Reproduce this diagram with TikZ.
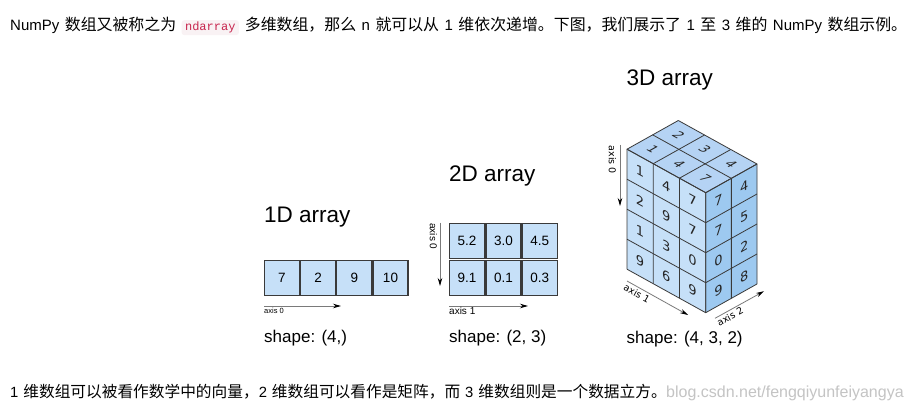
\documentclass[tikz,border=0pt]{standalone}
\usepackage{fontspec}
\setmainfont{Liberation Sans}
\newfontfamily\cjk{Noto Sans CJK SC}[Scale=1.06]
\newfontfamily\codefont{Liberation Mono}
\newfontfamily\dvs{DejaVu Sans}
\usetikzlibrary{arrows.meta,calc}
\definecolor{cellblue}{HTML}{C6E0F8}
\definecolor{topblue}{HTML}{B5D3F4}
\definecolor{rightblue}{HTML}{9DC9F0}
\definecolor{codebg}{HTML}{F9F2F4}
\definecolor{codefg}{HTML}{C7254E}
\definecolor{wmgray}{HTML}{C4C4C4}
\definecolor{axisgray}{HTML}{7A7A7A}
\definecolor{edgegray}{HTML}{3A3A3A}
\tikzset{
  bodytext/.style={anchor=base west, inner sep=0pt, font=\fontsize{15}{18}\selectfont},
  codebox/.style={anchor=base west, fill=codebg, rounded corners=3pt, inner xsep=3.5pt, inner ysep=2pt,
    text height=8.5pt, text depth=2.5pt, text=codefg, font=\codefont\fontsize{12}{14}\selectfont},
  cellbox/.style={draw=edgegray, fill=cellblue, line width=1.2pt, minimum width=35pt, minimum height=35pt,
    inner sep=0pt, font=\fontsize{13.5}{16}\selectfont},
  titletext/.style={anchor=base west, inner sep=0pt, font=\fontsize{22.5}{26}\selectfont},
  shapetext/.style={anchor=base west, inner sep=0pt, font=\fontsize{17}{20}\selectfont},
  axislbl/.style={inner sep=0.5pt, font=\fontsize{10}{12}\selectfont},
  axisarrow/.style={draw=axisgray, line width=0.8pt, -{Stealth[black,length=8pt,width=4.5pt]}},
  cubeline/.style={draw=edgegray, line width=0.8pt, line join=round},
  cubenum/.style={inner sep=0pt, font=\dvs\fontsize{13}{15}\selectfont, text=black!85},
  topnum/.style={cubenum, cm={0.875,-0.484,0.873,0.488,(0,0)}},
}
\begin{document}
\begin{tikzpicture}[x=1pt,y=1pt]
\useasboundingbox (0,0) rectangle (912,410);
\fill[white] (0,0) rectangle (912,410);

% ---------- top text ----------
\node[bodytext] (t1) at (10,379.3) {\spaceskip=5.5pt\relax NumPy {\cjk 数组又被称之为}};
\node[codebox] (code) at ($(t1.base east)+(5,0)$) {ndarray};
\node[bodytext] (t2) at ($(code.base east)+(5.5,0)$) {\spaceskip=5.5pt\relax {\cjk 多维数组，那么} n {\cjk 就可以从} 1 {\cjk 维依次递增。下图，我们展示了} 1 {\cjk 至} 3 {\cjk 维的} NumPy {\cjk 数组示例。}};

% ---------- 1D ----------
\node[titletext] (t1d) at (264,188) {1D array};
\node[cellbox] (c1a) at (281.9,132.2) {7};
\node[cellbox] (c1b) at (318.1,132.2) {2};
\node[cellbox] (c1c) at (354.3,132.2) {9};
\node[cellbox] (c1d) at (390.5,132.2) {10};
\coordinate (a1s) at (264,104);
\coordinate (a1e) at (341,104);
\draw[axisarrow] (a1s) -- (a1e);
\node[axislbl, anchor=north west, font=\fontsize{7.5}{9}\selectfont] (l1d) at (263.5,103) {axis 0};
\node[shapetext] (s1d) at (264,67.5) {shape: (4,)};

% ---------- 2D ----------
\node[titletext] (t2d) at (449,228.3) {2D array};
\node[cellbox] (c2a) at (467.0,169.0) {5.2};
\node[cellbox] (c2b) at (503.4,169.0) {3.0};
\node[cellbox] (c2c) at (539.8,169.0) {4.5};
\node[cellbox] (c2d) at (467.0,132.4) {9.1};
\node[cellbox] (c2e) at (503.4,132.4) {0.1};
\node[cellbox] (c2f) at (539.8,132.4) {0.3};
\coordinate (a20s) at (440,187.3);
\coordinate (a20e) at (440,124);
\draw[axisarrow] (a20s) -- (a20e);
\node[axislbl, rotate=-90, anchor=west] (l20) at (433.5,187.3) {axis 0};
\coordinate (a21s) at (449,104);
\coordinate (a21e) at (528,104);
\draw[axisarrow] (a21s) -- (a21e);
\node[axislbl, anchor=north west] (l21) at (448.5,103) {axis 1};
\node[shapetext] (s2d) at (449,67.5) {shape: (2, 3)};

% ---------- 3D ----------
\node[titletext] (t3d) at (626.5,324) {3D array};
\begin{scope}[shift={(627pt,140.8pt)}, x={(26.23pt,-14.5pt)}, y={(25.65pt,14.35pt)}, z={(0pt,30pt)}]
  \fill[cellblue] (0,0,0) -- (3,0,0) -- (3,0,4) -- (0,0,4) -- cycle;
  \fill[rightblue] (3,0,0) -- (3,2,0) -- (3,2,4) -- (3,0,4) -- cycle;
  \fill[topblue] (0,0,4) -- (3,0,4) -- (3,2,4) -- (0,2,4) -- cycle;
  \foreach \i in {0,...,3} \draw[cubeline] (\i,0,0) -- (\i,0,4) -- (\i,2,4);
  \foreach \k in {0,...,4} \draw[cubeline] (0,0,\k) -- (3,0,\k) -- (3,2,\k);
  \foreach \j in {0,1,2} \draw[cubeline] (3,\j,0) -- (3,\j,4) -- (0,\j,4);
  % left face numbers (column i, row r from top)
  \foreach \v [count=\n from 0] in {1,2,1,9} \node[cubenum, yslant=-0.553] (lf0\n) at (0.5,0,3.5-\n) {\v};
  \foreach \v [count=\n from 0] in {4,9,3,6} \node[cubenum, yslant=-0.553] (lf1\n) at (1.5,0,3.5-\n) {\v};
  \foreach \v [count=\n from 0] in {7,7,0,9} \node[cubenum, yslant=-0.553] (lf2\n) at (2.5,0,3.5-\n) {\v};
  % right face numbers
  \foreach \v [count=\n from 0] in {7,7,0,9} \node[cubenum, yslant=0.559] (rf0\n) at (3,0.5,3.5-\n) {\v};
  \foreach \v [count=\n from 0] in {4,5,2,8} \node[cubenum, yslant=0.559] (rf1\n) at (3,1.5,3.5-\n) {\v};
  % top face numbers
  \node[topnum] (tf00) at (0.5,0.5,4) {1};
  \node[topnum] (tf01) at (0.5,1.5,4) {2};
  \node[topnum] (tf10) at (1.5,0.5,4) {4};
  \node[topnum] (tf11) at (1.5,1.5,4) {3};
  \node[topnum] (tf20) at (2.5,0.5,4) {7};
  \node[topnum] (tf21) at (2.5,1.5,4) {4};
\end{scope}
\coordinate (a30s) at (620,265);
\coordinate (a30e) at (620,204);
\draw[axisarrow] (a30s) -- (a30e);
\node[axislbl, rotate=-90, anchor=west, font=\dvs\fontsize{9.5}{11}\selectfont] (l30) at (612.5,265) {axis 0};
\coordinate (a31s) at (627,129);
\coordinate (a31e) at (688,95);
\draw[axisarrow] (a31s) -- (a31e);
\node[axislbl, rotate=-29.1, anchor=north west, font=\dvs\fontsize{9.5}{11}\selectfont] (l31) at (626,127.5) {axis 1};
\coordinate (a32s) at (715,91.7);
\coordinate (a32e) at (764,118.8);
\draw[axisarrow] (a32s) -- (a32e);
\node[axislbl, rotate=28.9, anchor=north west, font=\dvs\fontsize{9.5}{11}\selectfont] (l32) at (715,90) {axis 2};
\node[shapetext] (s3d) at (626.5,67) {shape: (4, 3, 2)};

% ---------- bottom text ----------
\node[bodytext, font=\fontsize{14.8}{18}\selectfont] (bot) at (10,13) {\spaceskip=5pt\relax 1 {\cjk 维数组可以被看作数学中的向量，}2 {\cjk 维数组可以看作是矩阵，而} 3 {\cjk 维数组则是一个数据立方。}};
\node[bodytext, text=wmgray, font=\fontsize{16}{18}\selectfont] (wm) at (666,13) {blog.csdn.net/fengqiyunfeiyangya};
\end{tikzpicture}
\end{document}
